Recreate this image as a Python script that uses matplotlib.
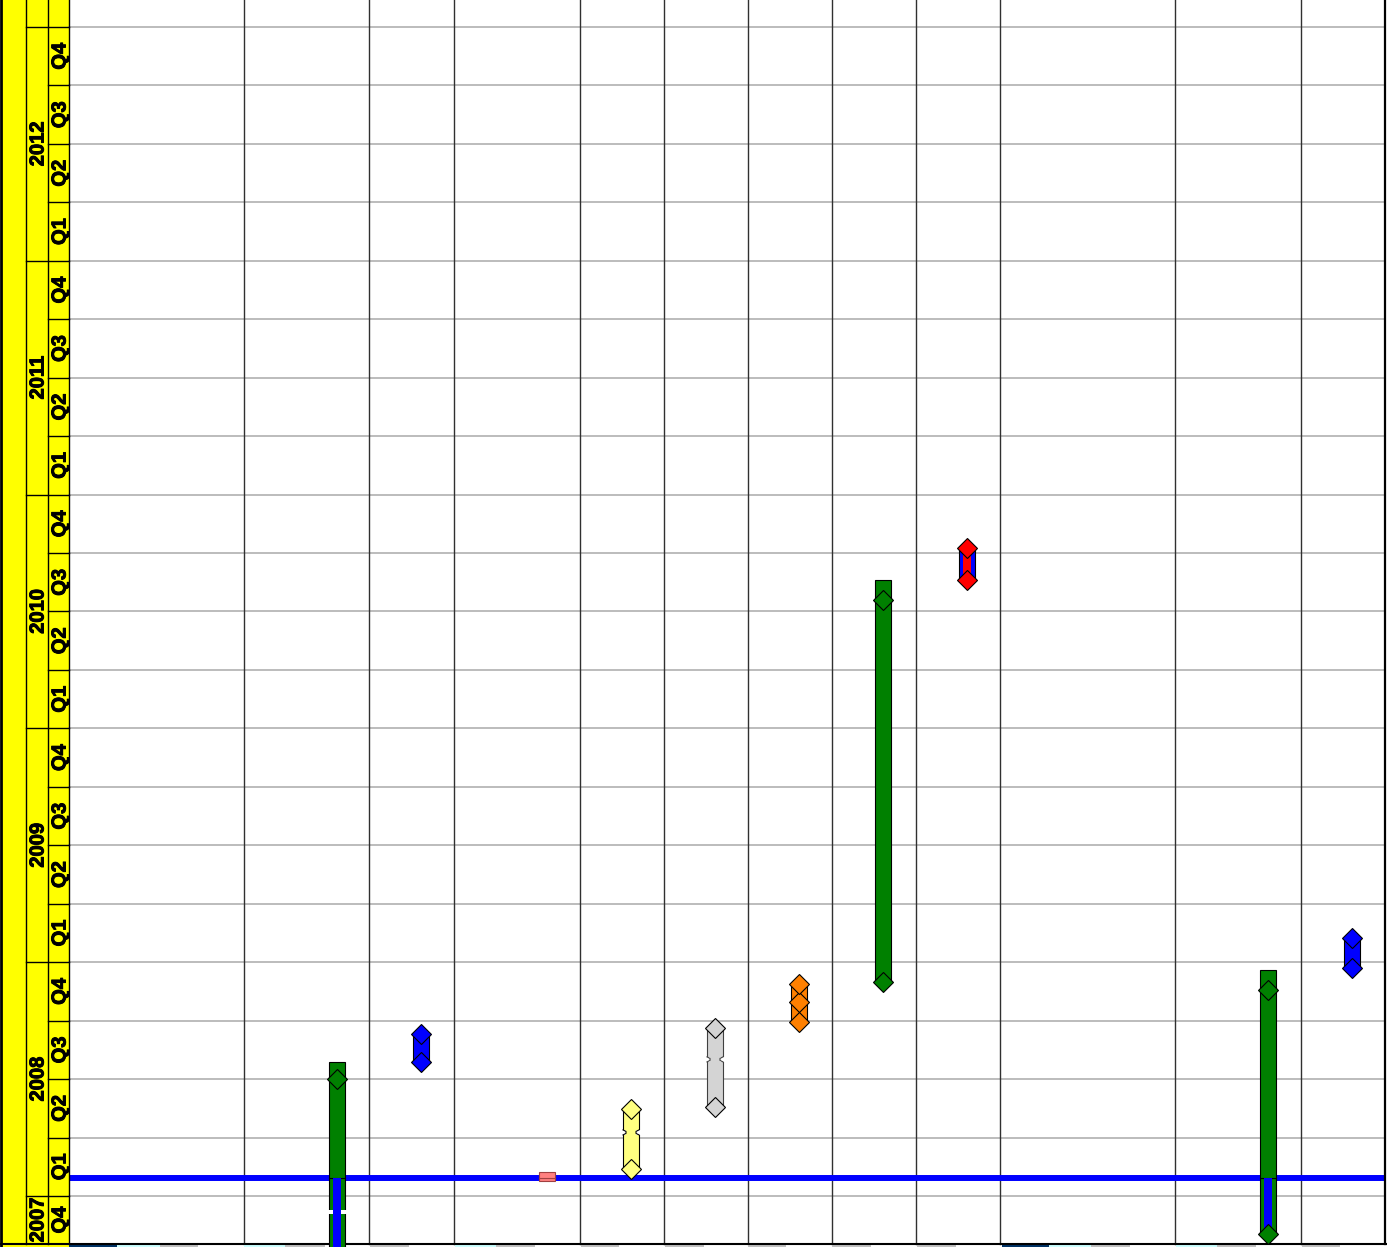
import datetime
import matplotlib
matplotlib.use('Agg')
from matplotlib import pyplot as plt
from matplotlib import patheffects

plt.rcParams['font.family'] = ['Liberation Sans', 'DejaVu Sans']

# tasks, one per column of the sheet
task_x = [337, 421, 547, 631, 715, 799, 883, 967, 1268, 1352]
task_start = ['2007-09-01', '2008-07-28', '2008-01-25', '2008-02-12', '2008-05-18',
              '2008-09-29', '2008-12-01', '2010-08-20', '2007-11-02', '2008-12-23']
task_end = ['2008-07-28', '2008-09-10', '2008-02-07', '2008-05-16', '2008-09-19',
            '2008-11-27', '2010-08-20', '2010-10-09', '2008-12-20', '2009-02-07']
task_color = ['#008000', '#0000ff', '#ff8080', '#ffff80', '#d4d4d4',
              '#ff8000', '#008000', '#0000ff', '#008000', '#0000ff']
task_edge = ['black', 'black', '#a04040', 'black', '#404040',
             'black', 'black', 'black', 'black', 'black']
milestones = [['2008-07-01'],
              ['2008-07-28', '2008-09-10'],
              [],
              ['2008-02-12', '2008-05-16'],
              ['2008-05-18', '2008-09-19'],
              ['2008-09-29', '2008-10-30', '2008-11-27'],
              ['2008-12-01', '2010-07-19'],
              ['2010-08-20', '2010-10-09'],
              ['2007-11-02', '2008-11-18'],
              ['2008-12-23', '2009-02-07']]
milestone_color = ['#008000', '#0000ff', None, '#ffff80', '#d4d4d4',
                   '#ff8000', '#008000', '#ff0000', '#008000', '#0000ff']
# inner stripe: colour and the date it runs to
stripe_color = ['#0000ff', None, None, None, None, None, None, '#ff0000', '#0000ff', None]
stripe_until = ['2008-01-29', None, None, None, None, None, None, '2010-10-09', '2008-01-29', None]
# interruptions
gap_task = [0]
gap_date = ['2007-12-07']
notch_task = [3, 4]
notch_date = ['2008-04-09', '2008-08-01']

today = '2008-01-29'

years = [2007, 2008, 2009, 2010, 2011, 2012, 2013]
quarter_names = ['Q1', 'Q2', 'Q3', 'Q4']

grid_x = [244, 369, 454, 580, 664, 748, 832, 916, 1000, 1175, 1301]

# coloured header cells along the bottom edge
strip_cells = [(69, 117, '#003366'), (117, 160, '#ccffff'), (160, 198, '#c0c0c0'),
               (244, 285, '#ccffff'), (285, 325, '#c0c0c0'), (370, 409, '#c0c0c0'),
               (455, 496, '#ccffff'), (496, 535, '#c0c0c0'), (581, 619, '#c0c0c0'),
               (665, 704, '#c0c0c0'), (748, 786, '#c0c0c0'), (832, 871, '#c0c0c0'),
               (917, 956, '#c0c0c0'), (1002, 1049, '#003366'), (1049, 1091, '#ccffff'),
               (1091, 1130, '#c0c0c0'), (1176, 1217, '#ccffff'), (1217, 1256, '#c0c0c0'),
               (1302, 1340, '#c0c0c0')]


def qpos(s):
    ''' Date string -> year + quarter fraction, every quarter the same height. '''
    d = datetime.date.fromisoformat(s)
    q = (d.month - 1) // 3
    q0 = datetime.date(d.year, 3 * q + 1, 1)
    q1 = datetime.date(d.year + (q == 3), (3 * q + 3) % 12 + 1, 1)
    return d.year + (q + (d - q0).days / (q1 - q0).days) / 4


W, H = 1387, 1247
PX_YEAR = 233.8
fig = plt.figure(figsize=(W / 100, H / 100), dpi=100)
ax = fig.add_axes([0, 0, 1, 1])
ax.set_axis_off()
y_top = 2008 + 1196 / PX_YEAR
y_bot = 2008 - 51 / PX_YEAR
y_floor = 2008 - 48 / PX_YEAR
ax.set_xlim(0, W)
ax.set_ylim(y_bot, y_top)

BAND_L, YEAR_R, Q_R, RIGHT = 2, 26, 48, 69
PLOT_R = 1385
BAR_W = 16
# a thin stroke makes the bold labels as heavy as the sheet's
LABEL = dict(rotation=90, ha='center', va='center', fontsize=14.5,
             fontweight='bold', family=['Liberation Sans', 'DejaVu Sans'], zorder=4,
             path_effects=[patheffects.withStroke(linewidth=0.7, foreground='black')])

# yellow date band
ax.add_patch(plt.Rectangle((BAND_L, y_bot), RIGHT - BAND_L, y_top - y_bot,
                           facecolor='#ffff00', edgecolor='none', zorder=1))
ax.plot([1, 1], [y_bot, y_top], color='black', lw=2, zorder=3)
for xx in (YEAR_R, Q_R, RIGHT):
    ax.plot([xx, xx], [y_floor, y_top], color='black', lw=1, zorder=3)

# quarter rows
for yr in years:
    for qi in range(4):
        y0 = yr + qi / 4
        y1 = y0 + 0.25
        if y1 <= y_floor or y0 >= y_top:
            continue
        if y0 > y_floor:
            ax.plot([Q_R if qi else YEAR_R, RIGHT], [y0, y0], color='black', lw=1, zorder=3)
            ax.plot([RIGHT, PLOT_R], [y0, y0], color='#b0b0b0', lw=1.2, zorder=1)
        lo, hi = max(y0, y_floor), min(y1, y_top)
        if (hi - lo) * PX_YEAR > 30:
            ax.text(60, (lo + hi) / 2, quarter_names[qi], **LABEL)
    lo, hi = max(yr, y_floor), min(yr + 1, y_top)
    if (hi - lo) * PX_YEAR > 45:
        ax.text(38, (lo + hi) / 2, str(yr), **LABEL)

# column separators
for xx in grid_x:
    ax.plot([xx, xx], [y_floor, y_top], color='#303030', lw=1, zorder=1)
ax.plot([PLOT_R, PLOT_R], [y_floor, y_top], color='black', lw=1.6, zorder=3)

# bottom edge and header cells
ax.plot([0, W], [y_floor, y_floor], color='black', lw=1.5, zorder=3)
ax.add_patch(plt.Rectangle((BAND_L, y_bot), RIGHT - BAND_L, y_floor - y_bot,
                           facecolor='#ffff00', edgecolor='none', zorder=2))
for x0, x1, c in strip_cells:
    ax.add_patch(plt.Rectangle((x0, y_bot), x1 - x0, y_floor - y_bot,
                               facecolor=c, edgecolor='none', zorder=2))

# today line
t = qpos(today)
ax.plot([RIGHT, PLOT_R], [t, t], color='#0000ff', lw=4.3, solid_capstyle='butt', zorder=2)

# task bars, split at today
for i, x in enumerate(task_x):
    s, e = qpos(task_start[i]), qpos(task_end[i])
    pieces = [(s, t), (t, e)] if s < t < e else [(s, e)]
    for a, b in pieces:
        ax.bar(x, b - a, bottom=a, width=BAR_W, color=task_color[i],
               edgecolor=task_edge[i], linewidth=0.8, zorder=5)

for k, i in enumerate(gap_task):
    g = qpos(gap_date[k])
    h = 2.2 / PX_YEAR
    ax.bar(task_x[i], 2 * h, bottom=g - h, width=BAR_W + 3, color='white',
           edgecolor='none', zorder=6)

for i, x in enumerate(task_x):
    if stripe_color[i] is None:
        continue
    s, e = qpos(task_start[i]), qpos(stripe_until[i])
    ax.bar(x, e - s, bottom=s, width=BAR_W * 0.45, color=stripe_color[i],
           edgecolor='none', zorder=7)

for k, i in enumerate(notch_task):
    n = qpos(notch_date[k])
    h = 2.5 / PX_YEAR
    x = task_x[i]
    for side in (-1, 1):
        edge = x + side * BAR_W / 2
        inner = edge - side * 3
        ax.bar((edge + inner) / 2 + side * 1, 2 * h, bottom=n - h, width=5,
               color='white', edgecolor='none', zorder=6)
        ax.plot([edge, inner, inner, edge], [n + h, n + h * 0.4, n - h * 0.4, n - h],
                color=task_edge[i], lw=0.8, zorder=7)

# milestones
for i, x in enumerate(task_x):
    if not milestones[i]:
        continue
    ys = [qpos(m) for m in milestones[i]]
    ax.plot([x] * len(ys), ys, linestyle='none', marker='D', markersize=10.5,
            markerfacecolor=milestone_color[i], markeredgecolor='black',
            markeredgewidth=0.8, zorder=8, clip_on=False)

fig.savefig('out.png', dpi=100)
